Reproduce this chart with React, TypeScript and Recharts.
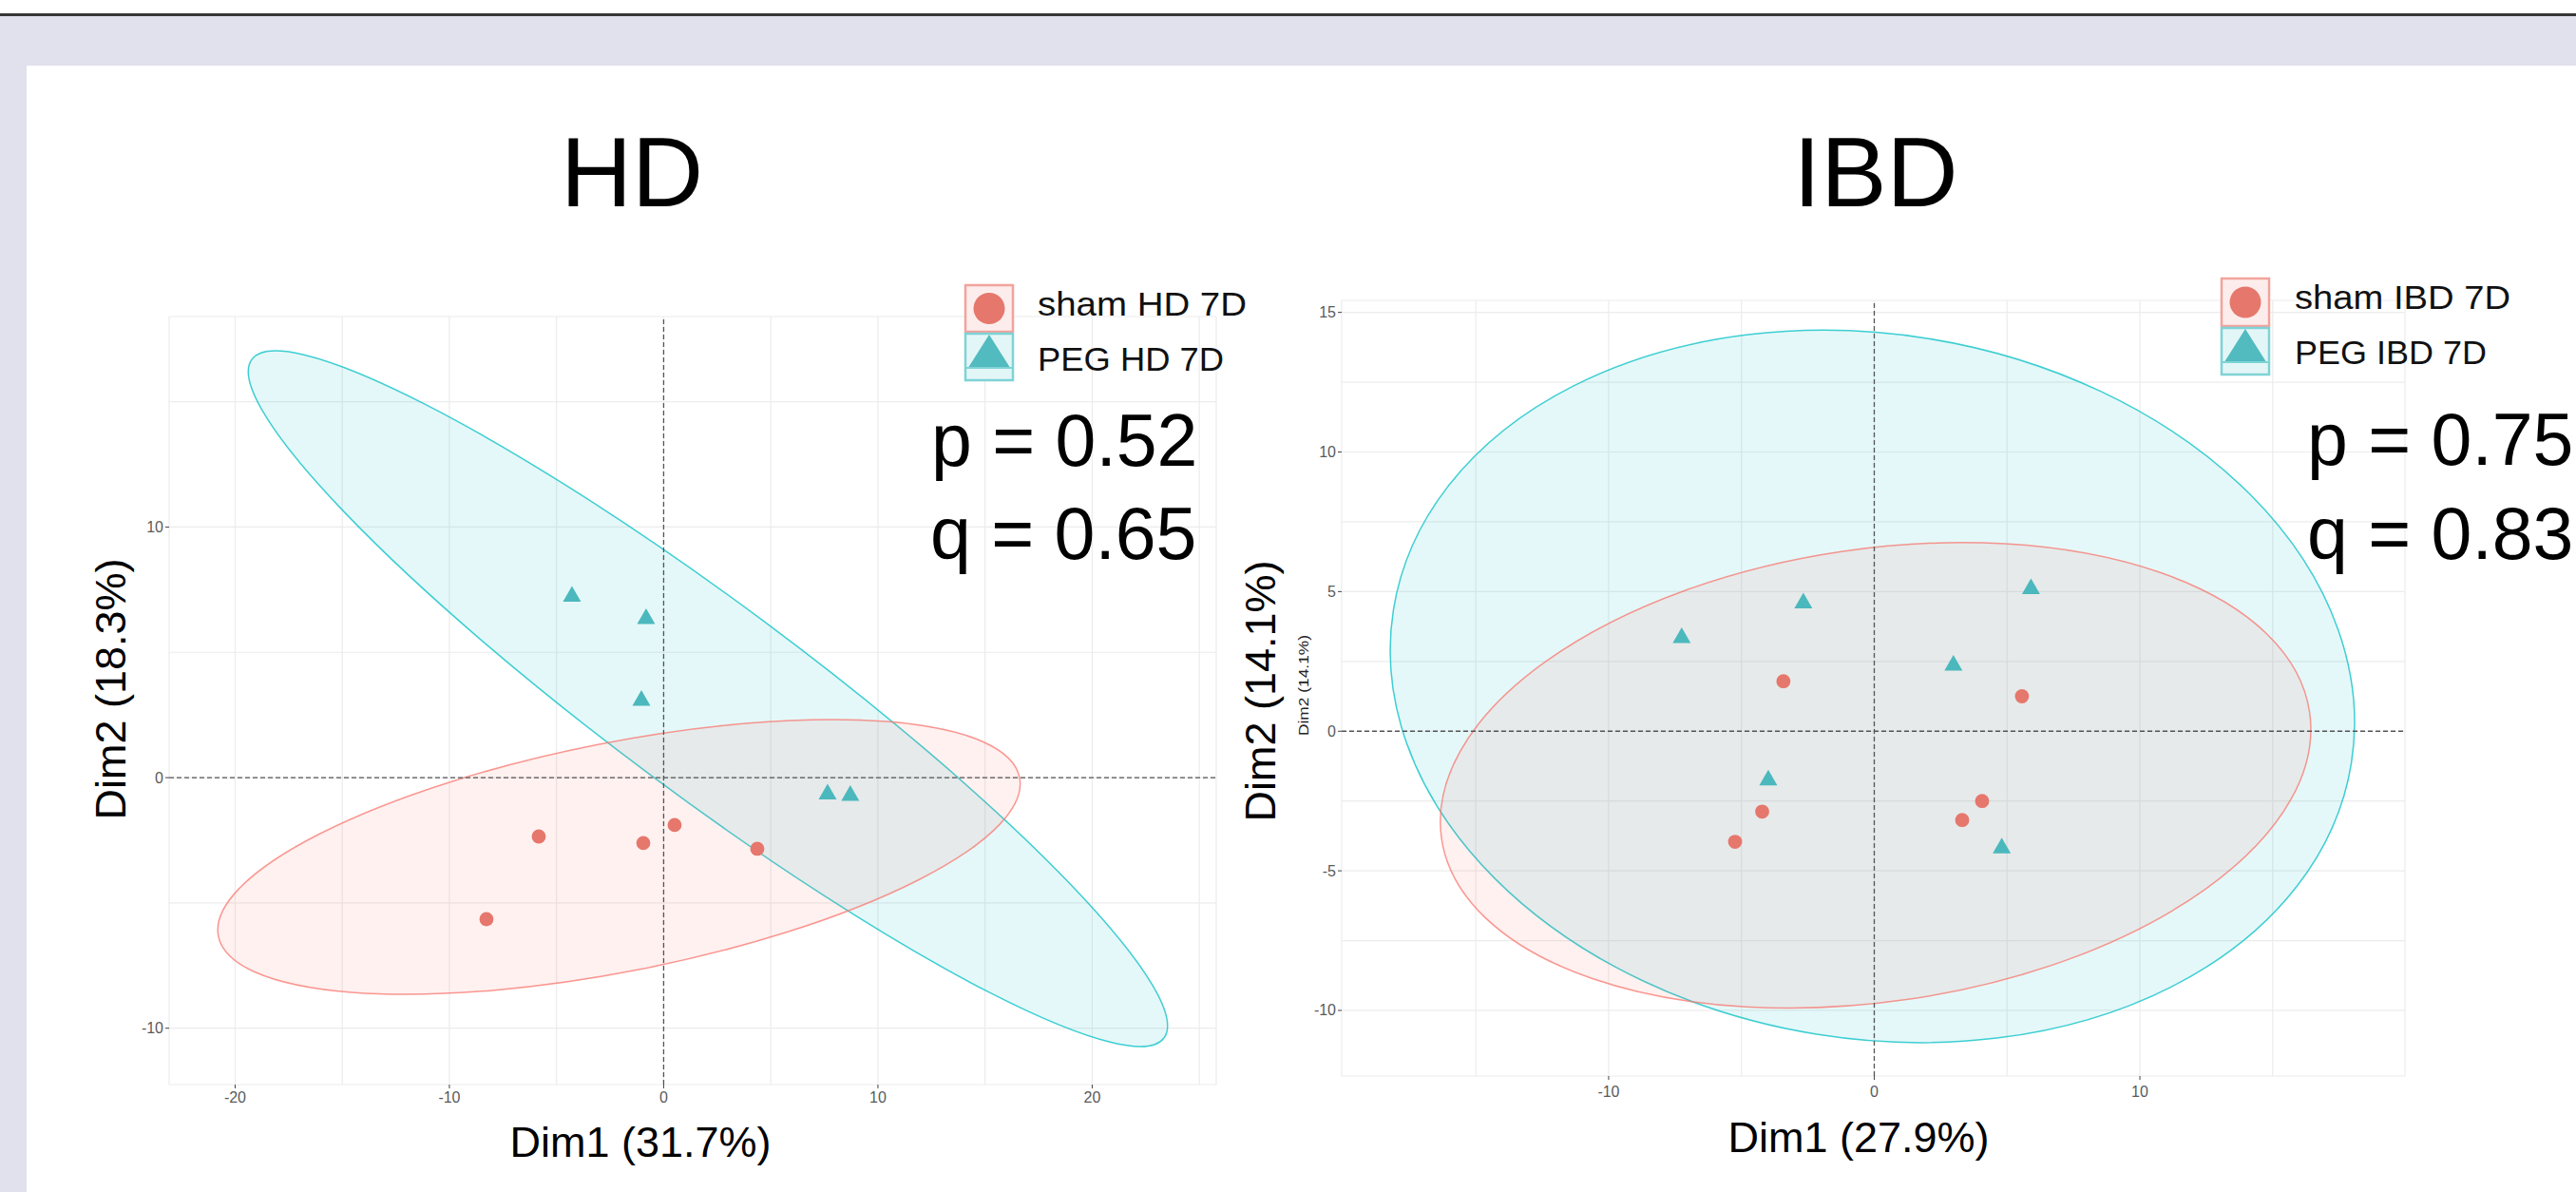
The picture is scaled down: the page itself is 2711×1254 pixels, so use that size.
import React from 'react';
import { ScatterChart, Scatter, XAxis, YAxis, CartesianGrid, ReferenceLine } from 'recharts';

const FONT = '"Liberation Sans", Arial, Helvetica, sans-serif';
const LAV = '#E1E0ED';
const PINK = '#F8766D';
const TEAL = '#00BFC4';
const SHAM_PT = '#E6776C';
const PEG_PT = '#4BB8BD';

// ---- HD panel data (Dim1, Dim2) ----
const hdSham = [
  { x: -8.27, y: -5.65 },
  { x: -5.83, y: -2.35 },
  { x: -0.95, y: -2.61 },
  { x: 0.51, y: -1.89 },
  { x: 4.37, y: -2.84 },
];
const hdPeg = [
  { x: -4.28, y: 7.32 },
  { x: -0.82, y: 6.43 },
  { x: -1.04, y: 3.17 },
  { x: 7.65, y: -0.57 },
  { x: 8.71, y: -0.62 },
];
// confidence ellipses: ends of the long axis, plus short/long ratio
const hdShamEllipse = [{ x: -20.78, y: -6.33 }, { x: 16.61, y: 0.0 }];
const hdShamRatio = 0.28;
const hdPegEllipse = [{ x: -19.22, y: 16.69 }, { x: 23.35, y: -10.39 }];
const hdPegRatio = 0.168;
const hdXTicks = [-20, -15, -10, -5, 0, 5, 10, 15, 20, 25];
const hdXMajor = [-20, -10, 0, 10, 20];
const hdYTicks = [-10, -5, 0, 5, 10, 15];
const hdYMajor = [-10, 0, 10];

// ---- IBD panel data ----
const ibdSham = [
  { x: -3.42, y: 1.79 },
  { x: -4.22, y: -2.88 },
  { x: -5.24, y: -3.96 },
  { x: 5.56, y: 1.25 },
  { x: 4.06, y: -2.5 },
  { x: 3.31, y: -3.18 },
];
const ibdPeg = [
  { x: -7.25, y: 3.43 },
  { x: -2.67, y: 4.67 },
  { x: -3.99, y: -1.67 },
  { x: 5.9, y: 5.18 },
  { x: 2.98, y: 2.44 },
  { x: 4.8, y: -4.1 },
];
const ibdShamEllipse = [{ x: -16.29, y: -3.84 }, { x: 16.39, y: 0.68 }];
const ibdShamRatio = 0.516;
const ibdPegEllipse = [{ x: -18.1, y: 4.36 }, { x: 17.96, y: -1.15 }];
const ibdPegRatio = 0.726;
const ibdXTicks = [-15, -10, -5, 0, 5, 10, 15];
const ibdXMajor = [-10, 0, 10];
const ibdYTicks = [-10, -7.5, -5, -2.5, 0, 2.5, 5, 7.5, 10, 12.5, 15];
const ibdYMajor = [-10, -5, 0, 5, 10, 15];

const ellipseShape = (ratio: number, color: string) => (props: any) => {
  const { x1, y1, x2, y2 } = props;
  const cx = (x1 + x2) / 2;
  const cy = (y1 + y2) / 2;
  const rx = Math.hypot(x2 - x1, y2 - y1) / 2;
  const ang = (Math.atan2(y2 - y1, x2 - x1) * 180) / Math.PI;
  return (
    <ellipse
      cx={cx}
      cy={cy}
      rx={rx}
      ry={rx * ratio}
      transform={`rotate(${ang} ${cx} ${cy})`}
      fill={color}
      fillOpacity={0.1}
      stroke={color}
      strokeOpacity={0.75}
      strokeWidth={1.5}
    />
  );
};

const dotShape = (p: any) => <circle cx={p.cx} cy={p.cy} r={7.4} fill={SHAM_PT} />;
const triShape = (p: any) => (
  <polygon
    points={`${p.cx},${p.cy - 8.5} ${p.cx - 9.5},${p.cy + 8} ${p.cx + 9.5},${p.cy + 8}`}
    fill={PEG_PT}
  />
);

const yTick = (majors: number[]) => (props: any) => {
  const { x, y, payload } = props;
  if (!majors.includes(payload.value)) return <g />;
  return (
    <g>
      <line x1={x + 2} x2={x + 6} y1={y} y2={y} stroke="#444" strokeWidth={1} />
      <text x={x} y={y} dy={5.5} textAnchor="end" fontSize={16} fill="#5a5a5a" fontFamily={FONT}>
        {payload.value}
      </text>
    </g>
  );
};

const xTick = (majors: number[], dy: number) => (props: any) => {
  const { x, y, payload } = props;
  if (!majors.includes(payload.value)) return <g />;
  return (
    <g>
      <line x1={x} x2={x} y1={y - 6} y2={y - 2} stroke="#444" strokeWidth={1} />
      <text x={x} y={y} dy={dy} textAnchor="middle" fontSize={16} fill="#5a5a5a" fontFamily={FONT}>
        {payload.value}
      </text>
    </g>
  );
};

interface PanelProps {
  width: number;
  height: number;
  margin: { top: number; right: number; bottom: number; left: number };
  xDomain: [number, number];
  yDomain: [number, number];
  xTicks: number[];
  xMajor: number[];
  yTicks: number[];
  yMajor: number[];
  xDy: number;
  sham: { x: number; y: number }[];
  peg: { x: number; y: number }[];
  shamEllipse: { x: number; y: number }[];
  shamRatio: number;
  pegEllipse: { x: number; y: number }[];
  pegRatio: number;
}

const PcaPanel = (p: PanelProps) => (
  <ScatterChart width={p.width} height={p.height} margin={p.margin}>
    <CartesianGrid stroke="#ECECEC" strokeWidth={1.2} />
    <XAxis
      type="number"
      dataKey="x"
      domain={p.xDomain}
      ticks={p.xTicks}
      allowDataOverflow
      axisLine={false}
      tickLine={false}
      tickSize={4}
      tickMargin={2}
      height={40}
      tick={xTick(p.xMajor, p.xDy)}
    />
    <YAxis
      type="number"
      dataKey="y"
      domain={p.yDomain}
      ticks={p.yTicks}
      allowDataOverflow
      axisLine={false}
      tickLine={false}
      tickSize={4}
      tickMargin={2}
      width={60}
      tick={yTick(p.yMajor)}
    />
    <ReferenceLine segment={p.pegEllipse} ifOverflow="visible" shape={ellipseShape(p.pegRatio, TEAL)} />
    <ReferenceLine segment={p.shamEllipse} ifOverflow="visible" shape={ellipseShape(p.shamRatio, PINK)} />
    <ReferenceLine x={0} stroke="#555" strokeDasharray="5 3" strokeWidth={1.3} />
    <ReferenceLine y={0} stroke="#555" strokeDasharray="5 3" strokeWidth={1.3} />
    <Scatter data={p.sham} shape={dotShape} isAnimationActive={false} />
    <Scatter data={p.peg} shape={triShape} isAnimationActive={false} />
  </ScatterChart>
);

const LegendKeys = ({ x, y, h1, h2 }: { x: number; y: number; h1: number; h2: number }) => (
  <g>
    <rect x={x} y={y} width={50} height={h1} fill="#FCEDEC" stroke="#F2A39C" strokeWidth={2.5} />
    <circle cx={x + 25} cy={y + h1 / 2} r={16.5} fill={SHAM_PT} />
    <rect x={x} y={y + h1 + 2} width={50} height={h2} fill="#E3F6F7" stroke="#7ED3D6" strokeWidth={2.5} />
    <polygon
      points={`${x + 25},${y + h1 + 3} ${x + 3.5},${y + h1 + h2 - 12} ${x + 46.5},${y + h1 + h2 - 12}`}
      fill="#52BBBF"
    />
    <line x1={x} x2={x + 50} y1={y + h1 + h2 - 11} y2={y + h1 + h2 - 11} stroke="#7ED3D6" strokeWidth={2} />
  </g>
);

export default function App() {
  return (
    <div
      style={{
        position: 'absolute',
        left: 0,
        top: 0,
        width: 2711,
        height: 1254,
        background: '#fff',
        overflow: 'hidden',
        fontFamily: FONT,
      }}
    >
      <div style={{ position: 'absolute', left: 0, top: 13.5, width: 2711, height: 3, background: '#363636' }} />
      <div style={{ position: 'absolute', left: 0, top: 16.5, width: 2711, height: 52.5, background: LAV }} />
      <div style={{ position: 'absolute', left: 0, top: 16.5, width: 28, height: 1238, background: LAV }} />

      <div style={{ position: 'absolute', left: 0, top: 0 }}>
        <PcaPanel
          width={1300}
          height={1254}
          margin={{ top: 333, right: 20, bottom: 73, left: 118 }}
          xDomain={[-23.08, 25.79]}
          yDomain={[-12.25, 18.4]}
          xTicks={hdXTicks}
          xMajor={hdXMajor}
          yTicks={hdYTicks}
          yMajor={hdYMajor}
          xDy={13}
          sham={hdSham}
          peg={hdPeg}
          shamEllipse={hdShamEllipse}
          shamRatio={hdShamRatio}
          pegEllipse={hdPegEllipse}
          pegRatio={hdPegRatio}
        />
      </div>
      <div style={{ position: 'absolute', left: 1300, top: 0 }}>
        <PcaPanel
          width={1411}
          height={1254}
          margin={{ top: 316, right: 180, bottom: 82, left: 52 }}
          xDomain={[-20.05, 19.98]}
          yDomain={[-12.35, 15.43]}
          xTicks={ibdXTicks}
          xMajor={ibdXMajor}
          yTicks={ibdYTicks}
          yMajor={ibdYMajor}
          xDy={16}
          sham={ibdSham}
          peg={ibdPeg}
          shamEllipse={ibdShamEllipse}
          shamRatio={ibdShamRatio}
          pegEllipse={ibdPegEllipse}
          pegRatio={ibdPegRatio}
        />
      </div>

      <svg
        width={2711}
        height={1254}
        style={{ position: 'absolute', left: 0, top: 0, pointerEvents: 'none' }}
        fontFamily={FONT}
      >
        <text x={665} y={217} textAnchor="middle" fontSize={104} fill="#000">HD</text>
        <text x={1974} y={217} textAnchor="middle" fontSize={104} fill="#000">IBD</text>

        <text x={674} y={1217} textAnchor="middle" fontSize={45} fill="#000">Dim1 (31.7%)</text>
        <text x={1956} y={1212} textAnchor="middle" fontSize={45} fill="#000">Dim1 (27.9%)</text>
        <text x={132} y={725} textAnchor="middle" fontSize={45} fill="#000" transform="rotate(-90 132 725)">
          Dim2 (18.3%)
        </text>
        <text x={1342} y={727} textAnchor="middle" fontSize={45} fill="#000" transform="rotate(-90 1342 727)">
          Dim2 (14.1%)
        </text>
        <text
          x={1377}
          y={721}
          textAnchor="middle"
          fontSize={15}
          fill="#222"
          textLength={106}
          lengthAdjust="spacingAndGlyphs"
          transform="rotate(-90 1377 721)"
        >
          Dim2 (14.1%)
        </text>

        <LegendKeys x={1016} y={300} h1={49} h2={49} />
        <text x={1092} y={332} fontSize={35} fill="#111" textLength={220} lengthAdjust="spacingAndGlyphs">sham HD 7D</text>
        <text x={1092} y={390} fontSize={35} fill="#111" textLength={196} lengthAdjust="spacingAndGlyphs">PEG HD 7D</text>

        <LegendKeys x={2338} y={293} h1={50} h2={49} />
        <text x={2415} y={325} fontSize={35} fill="#111" textLength={227} lengthAdjust="spacingAndGlyphs">sham IBD 7D</text>
        <text x={2415} y={383} fontSize={35} fill="#111" textLength={202} lengthAdjust="spacingAndGlyphs">PEG IBD 7D</text>

        <text x={980} y={490} fontSize={77} fill="#000">p = 0.52</text>
        <text x={979} y={588} fontSize={77} fill="#000">q = 0.65</text>
        <text x={2428} y={489} fontSize={77} fill="#000">p = 0.75</text>
        <text x={2428} y={588} fontSize={77} fill="#000">q = 0.83</text>
      </svg>
    </div>
  );
}
